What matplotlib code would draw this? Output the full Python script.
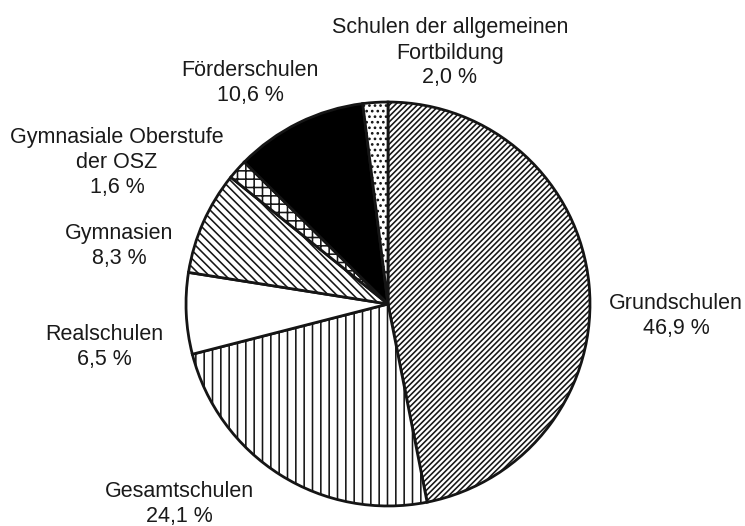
import matplotlib
matplotlib.use("Agg")
import matplotlib.pyplot as plt

# Anteile der Schüler nach Schularten (in %)
labels = ["Grundschulen", "Gesamtschulen", "Realschulen", "Gymnasien",
          "Gymnasiale Oberstufe\nder OSZ", "Förderschulen",
          "Schulen der allgemeinen\nFortbildung"]
shares = [46.9, 24.1, 6.5, 8.3, 1.6, 10.6, 2.0]
share_text = ["46,9 %", "24,1 %", "6,5 %", "8,3 %", "1,6 %", "10,6 %", "2,0 %"]

# fill styles per slice
faces = ["white", "white", "white", "white", "white", "black", "white"]
hatches = ["//////", "||", "", "\\\\\\\\", "++", "", "..."]

# label block centres in pixels (x, y from top)
label_pos = [(676, 316), (179, 504), (104, 347), (119, 246),
             (117, 162), (250, 83), (450, 53)]

W, H = 745, 526
plt.rcParams["font.family"] = ["Liberation Sans", "DejaVu Sans"]
plt.rcParams["hatch.linewidth"] = 1.15
plt.rcParams["hatch.color"] = "#111111"

fig = plt.figure(figsize=(W / 100, H / 100), dpi=100)
fig.patch.set_facecolor("white")

cx, cy, r = 388, 304, 204
ax = fig.add_axes([(cx - r) / W, (H - cy - r) / H, 2 * r / W, 2 * r / H])
wedges, _ = ax.pie(shares, startangle=90, counterclock=False, radius=1,
                   wedgeprops=dict(edgecolor="#151515", linewidth=2.0))
for w, fc, h in zip(wedges, faces, hatches):
    w.set_facecolor(fc)
    w.set_hatch(h)
ax.set_xlim(-1.01, 1.01)
ax.set_ylim(-1.01, 1.01)
ax.set_aspect("equal")
ax.axis("off")

for lab, pct, (px, py) in zip(labels, share_text, label_pos):
    fig.text(px / W, 1 - py / H, lab + "\n" + pct, ha="center", va="center",
             ma="center", fontsize=15.5, color="#1a1a1a", linespacing=1.25)

fig.savefig("out.png", dpi=100, facecolor="white")
